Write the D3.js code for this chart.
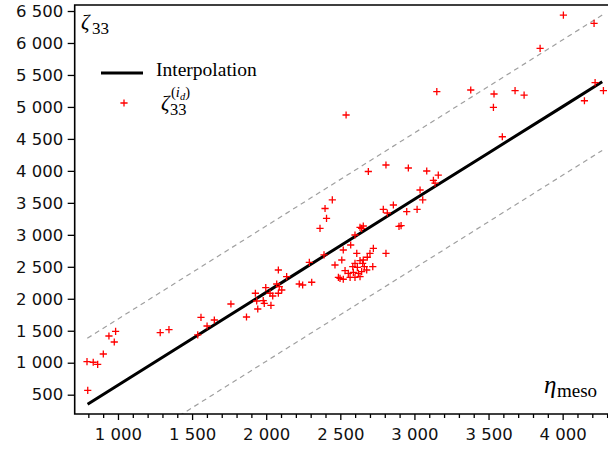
<!DOCTYPE html>
<html>
<head>
<meta charset="utf-8">
<script src="https://cdn.jsdelivr.net/npm/d3@7"></script>
<style>
  body { margin: 0; background: #fff; }
</style>
</head>
<body>
<script>
const WIDTH = 608, HEIGHT = 450;

// measured points (eta_meso, zeta33)
const etaMeso = [
  791, 833, 863, 901, 796, 939, 984, 975, 1285, 1344, 1560, 1538, 1601, 1650, 1762, 1867,
  1927, 1936, 1943, 1980, 1987, 1997, 2032, 2026, 2044, 2082, 2088, 2071, 2082, 2138, 2223,
  2246, 2307, 2291, 2390, 2487, 2105,
  2464, 2510, 2520, 2570, 2599, 2611, 2644, 2655, 2633, 2363, 2397, 2407, 2446, 2723, 2700,
  2682, 2655, 2633, 2651, 2599, 2584, 2615, 2662, 2719, 2808, 2532, 2554, 2588, 2622, 2644,
  2678, 2498, 2520, 2566, 2599, 2633, 2896, 2910,
  2689, 2808, 2959, 3083, 3161, 3128, 3139, 3038, 3056, 3018, 2948, 2858, 2790, 2817,
  2539, 3151, 3380, 3537, 3533, 3679, 3740, 3593, 3848, 4005, 4212, 4219, 4275, 4147
];
const zeta33 = [
  1016, 1007, 975, 1136, 569, 1418, 1491, 1324, 1470, 1516, 1710, 1434, 1574, 1668, 1918, 1715,
  2086, 1965, 1840, 1970, 1929, 2173, 1898, 2086, 2043, 2086, 2189, 2231, 2450, 2345, 2231,
  2215, 2258, 2570, 2685, 2336, 2137,
  2528, 2606, 2763, 2841, 2997, 2711, 3102, 3138, 3118, 3102, 3412, 3258, 3545, 2789, 2711,
  2649, 2606, 2595, 2555, 2555, 2502, 2492, 2502, 2502, 2711, 2439, 2398, 2414, 2398, 2423,
  2450, 2320, 2305, 2336, 2336, 2345, 3133, 3143,
  3990, 4092, 4045, 3998, 3935, 3853, 3810, 3701, 3545, 3399, 3362, 3466, 3399, 3341,
  4874, 5238, 5265, 5202, 4994, 5254, 5186, 4534, 5917, 6437, 6308, 5379, 5254, 5097
];

// interpolation curve and the dashed band
const interpX = [795, 1500, 2000, 2500, 3000, 3500, 4000, 4267];
const interpY = [350, 1375, 2100, 2830, 3555, 4280, 5005, 5394];
const upperX = [793, 4267];
const upperY = [1382, 6437];
const lowerX = [795, 4267];
const lowerY = [-730, 4320];

const xTicks = [1000, 1500, 2000, 2500, 3000, 3500, 4000];
const xMinor = d3.range(800, 4301, 100);
const yTicks = [500, 1000, 1500, 2000, 2500, 3000, 3500, 4000, 4500, 5000, 5500, 6000, 6500];

const pLeft = 74.7, pRight = 608, pTop = 5, pBottom = 414;

const x = d3.scaleLinear().domain([708, 4306]).range([pLeft, pRight]);
const y = d3.scaleLinear().domain([198, 6594]).range([pBottom, pTop]);

const fmt = d3.formatLocale({ decimal: ".", thousands: " ", grouping: [3], currency: ["", ""] }).format(",");

const svg = d3.select("body").append("svg")
  .attr("width", WIDTH)
  .attr("height", HEIGHT);

svg.append("defs").append("clipPath").attr("id", "plot")
  .append("rect").attr("x", pLeft).attr("y", pTop)
  .attr("width", pRight - pLeft).attr("height", pBottom - pTop);

const plot = svg.append("g").attr("clip-path", "url(#plot)");

const line = d3.line().x((d) => x(d[0])).y((d) => y(d[1]));

plot.append("path")
  .datum(d3.zip(upperX, upperY))
  .attr("d", line)
  .attr("fill", "none").attr("stroke", "#a0a0a0")
  .attr("stroke-width", 1.2).attr("stroke-dasharray", "5,4");

plot.append("path")
  .datum(d3.zip(lowerX, lowerY))
  .attr("d", line)
  .attr("fill", "none").attr("stroke", "#a0a0a0")
  .attr("stroke-width", 1.2).attr("stroke-dasharray", "5,4");

plot.append("path")
  .datum(d3.zip(interpX, interpY))
  .attr("d", line)
  .attr("fill", "none").attr("stroke", "#000")
  .attr("stroke-width", 3);

function plus(sel, s) {
  // thin "+" marker
  sel.append("path").attr("d", `M${-s},0H${s}M0,${-s}V${s}`)
    .attr("stroke", "#ff0000").attr("stroke-width", 1.3).attr("fill", "none");
}

plot.selectAll("g.pt")
  .data(d3.zip(etaMeso, zeta33))
  .join("g")
  .attr("class", "pt")
  .attr("transform", (d) => `translate(${x(d[0])},${y(d[1])})`)
  .each(function () { plus(d3.select(this), 3.6); });

// axes
const xAxis = svg.append("g")
  .attr("transform", `translate(0,${pBottom})`)
  .call(d3.axisBottom(x).tickValues(xTicks).tickSize(6).tickSizeOuter(0).tickPadding(8).tickFormat(fmt));
const xMinorAxis = svg.append("g")
  .attr("transform", `translate(0,${pBottom})`)
  .call(d3.axisBottom(x).tickValues(xMinor.filter((v) => v % 500 != 0)).tickSize(4).tickSizeOuter(0).tickFormat(""));
xMinorAxis.select(".domain").remove();

const yAxis = svg.append("g")
  .attr("transform", `translate(${pLeft},0)`)
  .call(d3.axisLeft(y).tickValues(yTicks).tickSize(7).tickSizeOuter(0).tickPadding(4.5).tickFormat(fmt));

[xAxis, yAxis].forEach((g) => {
  g.select(".domain").remove();
  g.selectAll("text")
    .attr("font-family", "DejaVu Sans")
    .attr("font-size", 16.5)
    .attr("fill", "#111");
  g.selectAll("line").attr("stroke", "#000").attr("stroke-width", 1.3);
});
xMinorAxis.selectAll("line").attr("stroke", "#000").attr("stroke-width", 1.3);

// frame: left, bottom, top
svg.append("path")
  .attr("d", `M${pRight},${pTop}H${pLeft}V${pBottom}H${pRight}`)
  .attr("fill", "none").attr("stroke", "#000").attr("stroke-width", 1.6);

// labels (one text element each, pieces as tspans)
const serif = "Liberation Serif";
function mathLabel(xp, yp) {
  return svg.append("text").attr("x", xp).attr("y", yp)
    .attr("font-family", serif).attr("fill", "#000");
}

const zl = mathLabel(81, 29);
zl.append("tspan").attr("font-size", 21).attr("font-style", "italic").text("ζ");
zl.append("tspan").attr("x", 92).attr("dy", 4.5).attr("font-size", 17).text("33");

const el = mathLabel(544, 393);
el.append("tspan").attr("font-size", 25).attr("font-style", "italic").text("η");
el.append("tspan").attr("x", 557).attr("dy", 4).attr("font-size", 19).text("meso");

// legend
svg.append("line")
  .attr("x1", 101).attr("x2", 143).attr("y1", 73).attr("y2", 73)
  .attr("stroke", "#000").attr("stroke-width", 3);
mathLabel(156, 76).attr("font-size", 19.5).text("Interpolation");

const lp = svg.append("g").attr("transform", "translate(124,103)");
plus(lp, 3.6);

// subscript and superscript stacked, as in the reference
const ll = mathLabel(161, 110);
ll.append("tspan").attr("font-size", 21).attr("font-style", "italic").text("ζ");
ll.append("tspan").attr("x", 170).attr("dy", 4.5).attr("font-size", 16.5).text("33");
ll.append("tspan").attr("x", 171).attr("dy", -17.5).attr("font-size", 14.5).text("(");
ll.append("tspan").attr("font-size", 14.5).attr("font-style", "italic").text("i");
ll.append("tspan").attr("dy", 2.5).attr("font-size", 10.5).attr("font-style", "italic").text("d");
ll.append("tspan").attr("dy", -2.5).attr("font-size", 14.5).text(")");
</script>
</body>
</html>
